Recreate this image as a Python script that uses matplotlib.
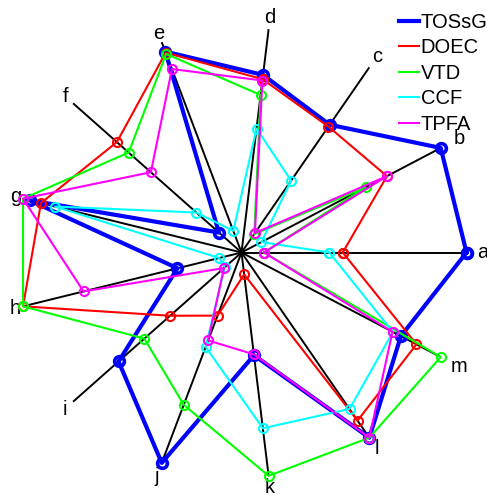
import numpy as np
import matplotlib
matplotlib.use("Agg")
import matplotlib.pyplot as plt

plt.rcParams['font.family'] = ['Liberation Sans', 'DejaVu Sans']

axis_labels = ['a', 'b', 'c', 'd', 'e', 'f', 'g', 'h', 'i', 'j', 'k', 'l', 'm']

series_names = ['TOSsG', 'DOEC', 'VTD', 'CCF', 'TPFA']

tossg = [1.00, 1.00, 0.69, 0.795, 0.955, 0.134, 0.97, 0.293, 0.73, 1.00, 0.46, 1.00, 0.80]
doec = [0.45, 0.73, 0.68, 0.776, 0.95, 0.74, 0.918, 1.00, 0.424, 0.30, 0.098, 0.908, 0.878]
vtd = [0.10, 0.623, 0.10, 0.705, 0.944, 0.67, 1.00, 1.00, 0.577, 0.724, 1.00, 1.00, 1.00]
ccf = [0.39, 0.10, 0.388, 0.555, 0.103, 0.268, 0.853, 0.102, 0.10, 0.449, 0.787, 0.845, 0.76]
tpfa = [0.10, 0.73, 0.105, 0.77, 0.872, 0.538, 1.00, 0.723, 0.104, 0.418, 0.456, 1.00, 0.758]

series_values = [tossg, doec, vtd, ccf, tpfa]
series_colors = ['#0000ff', '#ff0000', '#00ff00', '#00ffff', '#ff00ff']

# distance of each spoke label from the centre (1 = spoke tip)
label_radius = [1.07, 1.095, 1.06, 1.05, 1.04, 1.045, 1.035, 1.035, 1.05, 1.065, 1.05, 1.06, 1.09]

W, H = 487, 496
fig = plt.figure(figsize=(W / 100, H / 100), dpi=100)
ax = fig.add_axes([0, 0, 1, 1])

# plot centre and radius in pixels, used to set data limits
cx, cy, rad = 241.5, 252.5, 225.0
ax.set_xlim(-cx / rad, (W - cx) / rad)
ax.set_ylim(-(H - cy) / rad, cy / rad)
ax.set_aspect('equal')
ax.axis('off')

n = len(axis_labels)
theta = np.arange(n) * 2 * np.pi / n
ux, uy = np.cos(theta), np.sin(theta)

# spokes and their labels
for i in range(n):
    ax.plot([0, ux[i]], [0, uy[i]], color='black', lw=1.4, zorder=1,
            solid_capstyle='butt')
    r_lab = label_radius[i]
    ax.text(r_lab * ux[i], r_lab * uy[i], axis_labels[i], fontsize=14.5,
            ha='center', va='center')

for k, (name, vals, col) in enumerate(zip(series_names, series_values, series_colors)):
    v = np.array(vals + vals[:1])
    t = np.concatenate([theta, theta[:1]])
    thick = (k == 0)
    ax.plot(v * np.cos(t), v * np.sin(t), color=col,
            lw=3.0 if thick else 1.5,
            marker='o', markersize=7 if thick else 6.5,
            markerfacecolor='none', markeredgecolor=col,
            markeredgewidth=2.6 if thick else 1.5,
            zorder=2 + k, label=name)

leg_lines = [plt.Line2D([], [], color=c, lw=3.0 if i == 0 else 1.5)
             for i, c in enumerate(series_colors)]
fig.legend(leg_lines, series_names, loc='upper left',
           bbox_to_anchor=(399 / W, 1 - 13 / H), frameon=False,
           fontsize=14.5, handlelength=1.0, handletextpad=0.08,
           labelspacing=0.32, borderpad=0, borderaxespad=0)

fig.savefig('out.png', dpi=100)
